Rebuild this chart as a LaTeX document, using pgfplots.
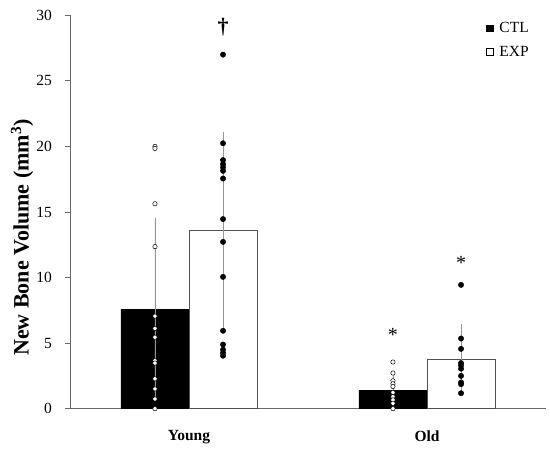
\documentclass[border=0pt]{standalone}
\usepackage{fontspec}
\setmainfont{Liberation Serif}
\usepackage{pgfplots}
\pgfplotsset{compat=1.18}
\definecolor{axisgray}{RGB}{105,105,105}
\definecolor{errgray}{RGB}{150,150,150}
\definecolor{bargray}{RGB}{80,80,80}
\begin{document}
\begin{tikzpicture}
\begin{axis}[
  scale only axis, width=476pt, height=393.4pt,
  xmin=0.5, xmax=2.5, ymin=0, ymax=30,
  axis x line*=bottom, axis y line*=left,
  axis line style={-, draw=axisgray, line width=0.8pt},
  ytick={0,5,10,15,20,25,30},
  xtick={1,2}, xticklabels={Young,Old},
  tick align=outside, major tick length=4.5pt,
  ytick style={draw=axisgray, line width=0.8pt},
  xtick style={draw=none},
  /pgf/number format/assume math mode=true,
  yticklabel style={font=\fontsize{15.5}{15.5}\selectfont, anchor=east, inner sep=0pt, xshift=-13.5pt},
  xticklabel style={font=\bfseries\fontsize{15.5}{15.5}\selectfont, anchor=north, inner sep=0pt, yshift=-17pt},
  ylabel={New Bone Volume (mm\textsuperscript{3})},
  ylabel style={font=\bfseries\fontsize{22}{22}\selectfont, at={(axis description cs:-0.1008,0.435)}, anchor=center},
  legend style={at={(axis description cs:0.874,0.987)}, anchor=north west, draw=none, fill=none,
    font=\fontsize{15.5}{15.5}\selectfont, row sep=8pt, inner sep=0pt, cells={anchor=west}},
  clip=false,
]
\addplot[ybar, bar width=68pt, bar shift=0pt, fill=black, draw=black,
  legend image code/.code={\draw[fill=black,draw=black] (0pt,-3pt) rectangle (6.5pt,3.5pt); \path[draw=none,fill=none] (0pt,0pt) -- (11pt,0pt);},
  error bars/.cd, y dir=both, y explicit,
  error bar style={errgray, line width=0.8pt},
  error mark options={errgray, mark size=3pt, line width=0.8pt}]
  coordinates {(0.857,7.6) +- (0,6.7) (1.857,1.4) +- (0,1.1)};
\addlegendentry{CTL}
\addplot[ybar, bar width=68pt, bar shift=0pt, fill=white, draw=bargray, line width=0.8pt,
  legend image code/.code={\draw[fill=white,draw=black,line width=0.5pt] (0pt,-3pt) rectangle (6.5pt,3.5pt); \path[draw=none,fill=none] (0pt,0pt) -- (11pt,0pt);},
  error bars/.cd, y dir=both, y explicit,
  error bar style={errgray, line width=0.8pt},
  error mark options={errgray, mark size=3pt, line width=0.8pt}]
  coordinates {(1.143,13.6) +- (0,7.25) (2.143,3.75) +- (0,2.45)};
\addlegendentry{EXP}
% CTL individual points (open)
\addplot[forget plot, only marks, mark=*, mark size=2.2pt, mark options={fill=white, draw=black, line width=0.5pt}]
  coordinates {
  (0.857,20.0) (0.857,19.85) (0.857,15.63) (0.857,12.36) (0.857,7.06) (0.857,6.12) (0.857,5.45)
  (0.857,3.66) (0.857,3.48) (0.857,2.28) (0.857,1.51) (0.857,0.74) (0.857,0)
  (1.857,3.56) (1.857,2.72) (1.857,2.13) (1.857,1.9) (1.857,1.69) (1.857,1.23)
  (1.857,0.92) (1.857,0.67) (1.857,0.41) (1.857,0)
  };
% EXP individual points (filled)
\addplot[forget plot, only marks, mark=*, mark size=2.7pt, mark options={fill=black, draw=black}]
  coordinates {
  (1.143,27.0) (1.143,20.24) (1.143,18.96) (1.143,18.65) (1.143,18.4) (1.143,18.14) (1.143,17.55)
  (1.143,14.46) (1.143,12.72) (1.143,10.05) (1.143,5.94) (1.143,4.89) (1.143,4.5) (1.143,4.25) (1.143,4.04)
  (2.143,9.44) (2.143,5.35) (2.143,4.56) (2.143,3.48) (2.143,3.3) (2.143,3.05) (2.143,2.5)
  (2.143,2.0) (2.143,1.87) (2.143,1.18)
  };
\node[font=\bfseries\fontsize{22}{22}\selectfont] at (axis cs:1.143,29.06) {†};
\node[font=\fontsize{20}{20}\selectfont, anchor=center, yshift=-4pt] at (axis cs:1.857,5.96) {*};
\node[font=\fontsize{20}{20}\selectfont, anchor=center, yshift=-4pt] at (axis cs:2.143,11.4) {*};
\end{axis}
\pgfresetboundingbox
\path[use as bounding box] (-70pt,-40.3pt) rectangle (480pt,408.7pt);
\end{tikzpicture}
\end{document}
